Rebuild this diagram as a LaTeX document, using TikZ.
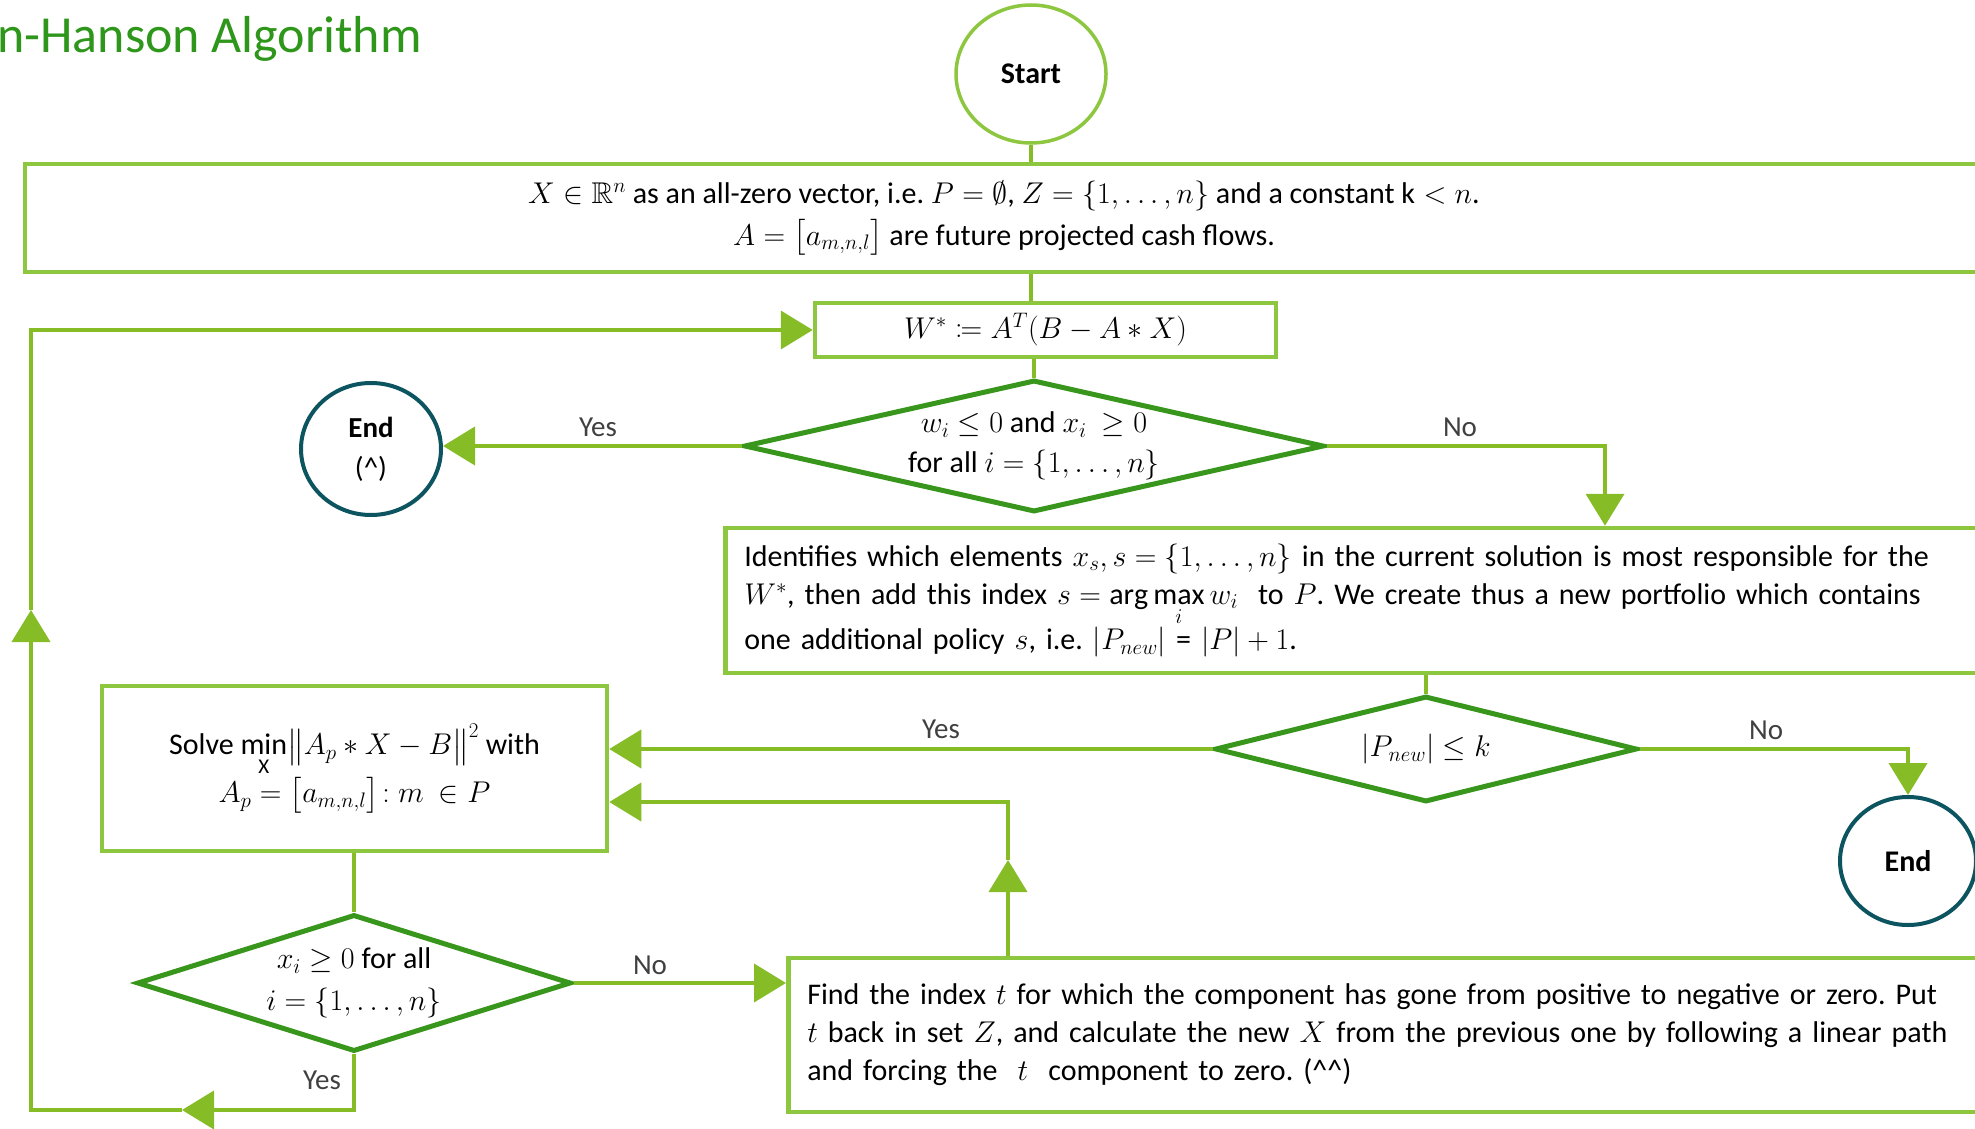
\RequirePackage{fix-cm}
\documentclass[tikz,border=0pt]{standalone}
\usepackage{mathtools}
\usepackage{amssymb}
\DeclareFontFamily{U}{msb}{}
\DeclareFontShape{U}{msb}{m}{n}{<->msbm10}{}
\DeclareFontFamily{U}{msa}{}
\DeclareFontShape{U}{msa}{m}{n}{<->msam10}{}
\usepackage{fontspec}
\setmainfont{Carlito}
\usetikzlibrary{shapes.geometric,arrows.meta}
\definecolor{boxgreen}{RGB}{141,198,63}
\definecolor{dgreen}{RGB}{56,150,28}
\definecolor{lgreen}{RGB}{134,188,37}
\definecolor{endteal}{RGB}{12,84,96}
\definecolor{titlegreen}{RGB}{46,150,26}
\definecolor{lbltext}{RGB}{64,64,64}
\frenchspacing
\begin{document}
\begin{tikzpicture}[x=1pt,y=-1pt,
  every node/.style={font=\fontsize{30}{38}\selectfont},
  box/.style={draw=boxgreen, line width=4.5pt, rectangle, inner sep=0pt},
  dia/.style={draw=dgreen, line width=5pt, diamond, inner sep=0pt},
  endc/.style={draw=endteal, line width=4pt, ellipse, inner sep=0pt},
  conn/.style={draw=lgreen, line width=4pt},
  tip/.style={-{Triangle[length=32pt,width=38pt]}},
  lbl/.style={text=lbltext, inner sep=0pt, font=\fontsize{29}{34}\selectfont}]
\useasboundingbox (0,0) rectangle (1975,1129);

% title
\node[anchor=base west, text=titlegreen, inner sep=0pt, font=\fontsize{52}{60}\selectfont] (title) at (-3,53) {n-Hanson Algorithm};

% nodes
\node[draw=boxgreen, line width=3.5pt, ellipse, inner sep=0pt, minimum width=150pt, minimum height=138pt, font=\fontsize{30}{36}\selectfont\bfseries] (start) at (1031,74) {Start};

\node[box, minimum width=1958pt, minimum height=108pt, align=center, font=\fontsize{30}{42}\selectfont] (init) at (1004,218)
 {$X\in\mathbb{R}^n$ as an all-zero vector, i.e. $P=\emptyset$, $Z=\{1,\ldots,n\}$ and a constant $\mathrm{k}<n$.\\
  $A=\bigl[a_{m,n,l}\bigr]$ are future projected cash flows.};

\node[box, minimum width=461pt, minimum height=54pt] (wbox) at (1045.5,330) {$W^{*}\coloneqq A^{T}(B-A*X)$};

\node[dia, minimum width=580pt, minimum height=132pt,
  label={[align=center, font=\fontsize{30}{40}\selectfont]center:$w_i\leq 0$ and $x_i\ \geq 0$\\for all $i=\{1,\ldots,n\}$}] (d1) at (1034,446) {};

\node[endc, minimum width=140pt, minimum height=132pt, align=center, font=\fontsize{29}{40}\selectfont] (end1) at (371,449) {\textbf{End}\\(\textasciicircum)};

\node[box, anchor=west, minimum height=145pt, inner xsep=19pt, text width=1232pt, align=left] (ident) at (723,600.5)
 {Identifies which elements $x_s, s=\{1,\ldots,n\}$ in the current solution is most responsible for the\\
  $W^{*}$, then add this index $s=\arg\max\limits_{i} w_i$ \ to $P$. We create thus a new portfolio which contains\\
  one additional policy $s$, i.e. $|P_{new}|$ = $|P|+1$.};

\node[dia, minimum width=422pt, minimum height=106pt,
  label={[font=\fontsize{30}{38}\selectfont]center:$|P_{new}|\leq k$}] (d2) at (1426,749) {};

\node[endc, minimum width=136pt, minimum height=128pt, font=\fontsize{30}{36}\selectfont\bfseries] (end2) at (1908,861) {End};

\node[box, minimum width=505pt, minimum height=165pt, align=center, font=\fontsize{30}{44}\selectfont] (solve) at (354.5,768.5)
 {Solve $\min\limits_{\mathrm{X}}\bigl\|A_p*X-B\bigr\|^2$ with\\
  $A_p=\bigl[a_{m,n,l}\bigr]\!:m\ \in P$};

\node[dia, minimum width=434pt, minimum height=137pt,
  label={[align=center, font=\fontsize{30}{42}\selectfont]center:$x_i\geq 0$ for all\\$i=\{1,\ldots,n\}$}] (d3) at (354,983) {};

\node[box, anchor=west, minimum height=154pt, inner xsep=19pt, text width=1205pt, align=left] (find) at (786,1035)
 {Find the index $t$ for which the component has gone from positive to negative or zero. Put\\
  $t$ back in set $Z$, and calculate the new $X$ from the previous one by following a linear path\\
  and forcing the \ $t$ \ component to zero. (\textasciicircum\textasciicircum)};

% helper coordinates
\coordinate (noturn) at (1605,446);
\coordinate (upmid) at (1008,860);
\coordinate (upturn) at (1008,802);
\coordinate (ymid1) at (182,1110);
\coordinate (ymid2) at (31,610);

% connectors
\draw[conn] (start.south) -- (init.north -| start.south);
\draw[conn] (init.south -| start.south) -- (wbox.north -| start.south);
\draw[conn] (wbox.south -| d1.north) -- (d1.north);
\draw[conn,tip] (d1.west) -- (d1.west -| end1.east);
\draw[conn,tip] (d1.east) -- (noturn) -- (noturn |- ident.north);
\draw[conn] (ident.south -| d2.north) -- (d2.north);
\draw[conn,tip] (d2.west) -- (d2.west -| solve.east);
\draw[conn,tip] (d2.east) -| (end2.north);
\draw[conn] (solve.south -| d3.north) -- (d3.north);
\draw[conn,tip] (d3.east) -- (d3.east -| find.west);
\draw[conn,tip] (find.north -| upmid) -- (upmid);
\draw[conn,tip] (upmid) -- (upturn) -- (upturn -| solve.east);
\draw[conn,tip] (d3.south) |- (ymid1);
\draw[conn,tip] (ymid1) -| (ymid2);
\draw[conn,tip] (ymid2) |- (wbox.west);

% labels
\node[lbl] (yes1) at (598,427) {Yes};
\node[lbl] (no1) at (1460,427) {No};
\node[lbl] (yes2) at (941,729) {Yes};
\node[lbl] (no2) at (1766,730) {No};
\node[lbl] (no3) at (650,965) {No};
\node[lbl] (yes3) at (322,1080) {Yes};
\end{tikzpicture}
\end{document}
